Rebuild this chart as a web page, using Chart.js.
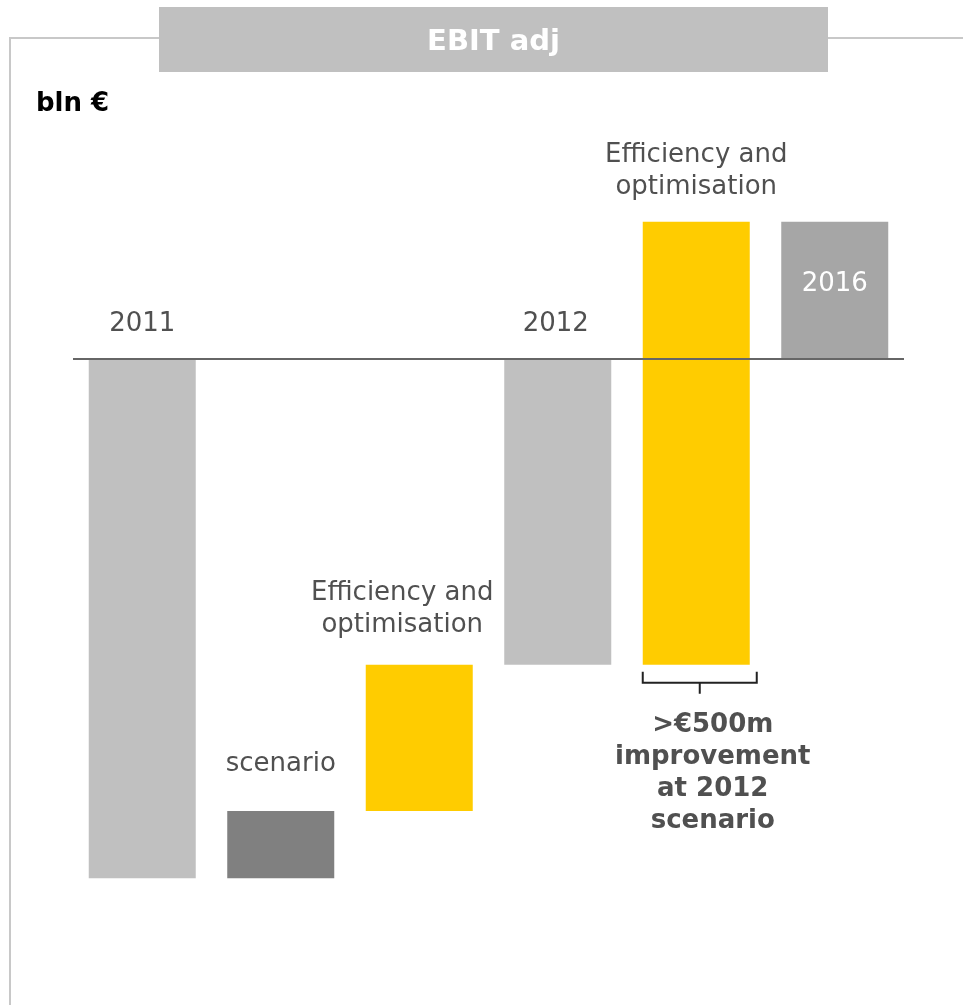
<!DOCTYPE html>
<html>
<head>
<meta charset="utf-8">
<script src="https://cdn.jsdelivr.net/npm/chart.js@4"></script>
<style>
html,body{margin:0;padding:0;background:#fff;}
#wrap{width:963px;height:1005px;position:relative;}
</style>
</head>
<body>
<div id="wrap"><canvas id="c" width="963" height="1005"></canvas></div>
<script>
// ---- data (bln €) ----
const categories = ['2011', 'scenario', 'Efficiency and optimisation', '2012', 'Efficiency and optimisation', '2016'];
const barLow  = [-0.586, -0.586, -0.51, -0.345, -0.345, 0];
const barHigh = [0, -0.51, -0.345, 0, 0.155, 0.155];
const barColors = ['#C0C0C0', '#808080', '#FFCC00', '#C0C0C0', '#FFCC00', '#A6A6A6'];
const titleText = 'EBIT adj';
const unitText = 'bln €';
const noteLines = ['>€500m', 'improvement', 'at 2012', 'scenario'];

const FONT = '"DejaVu Sans", Verdana, sans-serif';
const TXT = '#505050';

// label layout: [category index, lines, dx, y offset from bar top of last line, color]
const labelSpecs = [
  {i:0, lines:['2011'], dx:0, off:-35, color:TXT},
  {i:1, lines:['scenario'], dx:0, off:-47, color:TXT},
  {i:2, lines:['Efficiency and','optimisation'], dx:-17, off:-39, color:TXT},
  {i:3, lines:['2012'], dx:-2, off:-35, color:TXT},
  {i:4, lines:['Efficiency and','optimisation'], dx:0, off:-34, color:TXT},
  {i:5, lines:['2016'], dx:0, off:63, color:'#FFFFFF'}
];

const deco = {
  id:'deco',
  beforeDraw(chart){
    const ctx = chart.ctx;
    ctx.save();
    ctx.fillStyle = '#fff';
    ctx.fillRect(0,0,chart.width,chart.height);
    // frame
    ctx.strokeStyle = '#C8C8C8';
    ctx.lineWidth = 2;
    ctx.beginPath();
    ctx.moveTo(10, 1005); ctx.lineTo(10, 38); ctx.lineTo(159, 38);
    ctx.moveTo(828, 38); ctx.lineTo(963, 38);
    ctx.stroke();
    // title box
    ctx.fillStyle = '#C0C0C0';
    ctx.fillRect(159, 7, 669, 65);
    ctx.fillStyle = '#FFFFFF';
    ctx.font = 'bold 29px ' + FONT;
    ctx.textAlign = 'center';
    ctx.textBaseline = 'middle';
    ctx.fillText(titleText, 493.5, 42);
    // unit
    ctx.fillStyle = '#000';
    ctx.font = 'bold 26px ' + FONT;
    ctx.textAlign = 'left';
    ctx.fillText(unitText, 36, 104);
    ctx.restore();
  },
  afterDatasetsDraw(chart){
    const ctx = chart.ctx;
    const ys = chart.scales.y;
    const meta = chart.getDatasetMeta(0);
    const area = chart.chartArea;
    ctx.save();
    // zero line
    const y0 = ys.getPixelForValue(0);
    ctx.strokeStyle = '#666666';
    ctx.lineWidth = 2;
    ctx.beginPath();
    ctx.moveTo(area.left, y0); ctx.lineTo(area.right, y0);
    ctx.stroke();
    // labels
    ctx.font = '26px ' + FONT;
    ctx.textAlign = 'center';
    ctx.textBaseline = 'middle';
    labelSpecs.forEach(s => {
      const bar = meta.data[s.i];
      const top = ys.getPixelForValue(barHigh[s.i]);
      ctx.fillStyle = s.color;
      const n = s.lines.length;
      s.lines.forEach((ln, k) => {
        ctx.fillText(ln, bar.x + s.dx, top + s.off - (n - 1 - k) * 32);
      });
    });
    // bracket under second efficiency bar
    const b = meta.data[4];
    const bot = ys.getPixelForValue(barLow[4]);
    const l = b.x - b.width/2, r = b.x + b.width/2 + 7, mid = (l + r)/2;
    ctx.strokeStyle = '#222';
    ctx.lineWidth = 2;
    ctx.beginPath();
    ctx.moveTo(l, bot + 7); ctx.lineTo(l, bot + 18); ctx.lineTo(r, bot + 18); ctx.lineTo(r, bot + 7);
    ctx.moveTo(mid, bot + 18); ctx.lineTo(mid, bot + 29);
    ctx.stroke();
    ctx.fillStyle = TXT;
    ctx.font = 'bold 26px ' + FONT;
    noteLines.forEach((ln, k) => ctx.fillText(ln, mid + 13, bot + 61 + k * 32));
    ctx.restore();
  }
};

new Chart(document.getElementById('c'), {
  type: 'bar',
  data: {
    labels: categories,
    datasets: [{
      data: barLow.map((v, i) => [v, barHigh[i]]),
      backgroundColor: barColors,
      borderWidth: 0,
      categoryPercentage: 1,
      barPercentage: 0.7726
    }]
  },
  options: {
    responsive: false,
    animation: false,
    layout: {padding: {left: 73, right: 59, top: 102, bottom: 8}},
    plugins: {legend: {display: false}, tooltip: {enabled: false}, title: {display: false}},
    scales: {
      x: {display: false},
      y: {display: false, min: -0.72, max: 0.29}
    }
  },
  plugins: [deco]
});
</script>
</body>
</html>
